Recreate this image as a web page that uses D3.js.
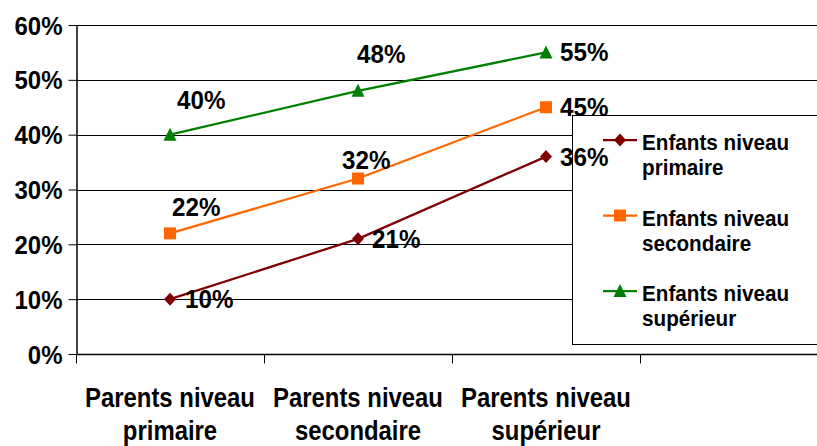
<!DOCTYPE html>
<html><head><meta charset="utf-8">
<script src="https://cdn.jsdelivr.net/npm/d3@7"></script>
<style>
html,body{margin:0;padding:0;background:#fff;}
text{font-family:"Liberation Sans",Arial,sans-serif;font-weight:bold;fill:#000;}
</style></head>
<body>
<svg id="chart" width="817" height="446"></svg>
<script>
// ---- data ----
const categories = ["Parents niveau primaire", "Parents niveau secondaire", "Parents niveau supérieur"];
const seriesNames = ["Enfants niveau primaire", "Enfants niveau secondaire", "Enfants niveau supérieur"];
const enfantsPrimaire = [10, 21, 36];
const enfantsSecondaire = [22, 32, 45];
const enfantsSuperieur = [40, 48, 55];
const yTicks = [0, 10, 20, 30, 40, 50, 60];

// ---- layout / style ----
const W = 817, H = 446;
const colors = ["#800000", "#FF6600", "#008000"];
const shapes = ["diamond", "square", "triangle"];
// label offsets (left edge, baseline) relative to each point
const labelOffsets = [
  [[15, 9], [14, 9], [14, 9]],
  [[2, -17], [-16, -10], [14, 9]],
  [[7, -26], [-1, -28], [14, 9]]
];

const svg = d3.select("#chart");
const x = d3.scaleBand().domain(categories).range([76, 640]);
const y = d3.scaleLinear().domain([0, 60]).range([354, 25]);
const seriesData = [enfantsPrimaire, enfantsSecondaire, enfantsSuperieur];

// gridlines
svg.append("g").selectAll("line").data(yTicks.filter(d => d > 0)).join("line")
  .attr("x1", 76).attr("x2", W)
  .attr("y1", d => Math.round(y(d)) + 0.5).attr("y2", d => Math.round(y(d)) + 0.5)
  .attr("stroke", "#000").attr("stroke-width", 1);

// y axis
const yAxis = svg.append("g").attr("transform", "translate(76.5,0)")
  .call(d3.axisLeft(y).tickValues(yTicks).tickSize(8).tickSizeOuter(0).tickFormat(d => d + "%"));
yAxis.select(".domain").attr("stroke", "#000").attr("stroke-width", 1.5);
yAxis.selectAll(".tick line").attr("stroke", "#000");
yAxis.selectAll(".tick text")
  .attr("x", null).attr("dy", "0.36em")
  .attr("transform", "translate(-14,0) scale(0.96,1)")
  .style("font-size", "25px").attr("font-family", null);

// x axis line + ticks
const xBottom = Math.round(y(0)) + 0.5;
svg.append("line").attr("x1", 76).attr("x2", W).attr("y1", xBottom).attr("y2", xBottom)
  .attr("stroke", "#000").attr("stroke-width", 1.5);
const bounds = categories.map(c => x(c)).concat([x.range()[1], x.range()[1] + x.bandwidth()]);
svg.append("g").selectAll("line").data(bounds).join("line")
  .attr("x1", d => Math.round(d) + 0.5).attr("x2", d => Math.round(d) + 0.5)
  .attr("y1", xBottom).attr("y2", xBottom + 9)
  .attr("stroke", "#000").attr("stroke-width", 1);

// x labels
const xl = svg.append("g").selectAll("g").data(categories).join("g");
xl.each(function (c) {
  const cx = x(c) + x.bandwidth() / 2;
  const idx = c.indexOf("niveau") + 6;
  const lines = [c.slice(0, idx), c.slice(idx + 1)];
  lines.forEach((t, i) => {
    d3.select(this).append("text")
      .attr("transform", `translate(${cx},${407 + i * 33}) scale(0.885,1)`)
      .attr("text-anchor", "middle").style("font-size", "27px").text(t);
  });
});

// marker shapes
function markerPath(shape, cx, cy) {
  const p = d3.path();
  if (shape === "diamond") {
    p.moveTo(cx, cy - 6.5); p.lineTo(cx + 6, cy); p.lineTo(cx, cy + 6.5); p.lineTo(cx - 6, cy); p.closePath();
  } else if (shape === "square") {
    p.rect(cx - 6, cy - 6, 12, 12);
  } else {
    p.moveTo(cx, cy - 7); p.lineTo(cx + 6.5, cy + 6); p.lineTo(cx - 6.5, cy + 6); p.closePath();
  }
  return p.toString();
}

const line = d3.line().x((d, i) => x(categories[i]) + x.bandwidth() / 2).y(d => y(d));

seriesData.forEach((vals, s) => {
  const g = svg.append("g");
  g.append("path").attr("d", line(vals)).attr("fill", "none")
    .attr("stroke", colors[s]).attr("stroke-width", 2.25);
  g.selectAll("path.m").data(vals).join("path").attr("class", "m")
    .attr("d", (d, i) => markerPath(shapes[s], x(categories[i]) + x.bandwidth() / 2, y(d)))
    .attr("fill", colors[s]);
});

// legend (drawn under the data labels)
const lg = svg.append("g");
lg.append("rect").attr("x", 572.5).attr("y", 115.5).attr("width", 300).attr("height", 229)
  .attr("fill", "#fff").attr("stroke", "#000").attr("stroke-width", 1);
seriesNames.forEach((name, s) => {
  const cy = 140 + s * 75.5;
  lg.append("line").attr("x1", 603).attr("x2", 637).attr("y1", cy).attr("y2", cy)
    .attr("stroke", colors[s]).attr("stroke-width", 2.25);
  lg.append("path").attr("d", markerPath(shapes[s], 620, cy)).attr("fill", colors[s]);
  const idx = name.indexOf("niveau") + 6;
  [name.slice(0, idx), name.slice(idx + 1)].forEach((t, i) => {
    lg.append("text").attr("transform", `translate(642,${cy + 10 + i * 25}) scale(0.94,1)`)
      .style("font-size", "22px").text(t);
  });
});

// data labels (drawn last, on top of the legend)
seriesData.forEach((vals, s) => {
  svg.append("g").selectAll("text").data(vals).join("text")
    .attr("transform", (d, i) => {
      const px = x(categories[i]) + x.bandwidth() / 2 + labelOffsets[s][i][0];
      const py = y(d) + labelOffsets[s][i][1];
      return `translate(${px},${py}) scale(0.93,1)`;
    })
    .style("font-size", "26px").text(d => d + "%");
});
</script>
</body></html>
